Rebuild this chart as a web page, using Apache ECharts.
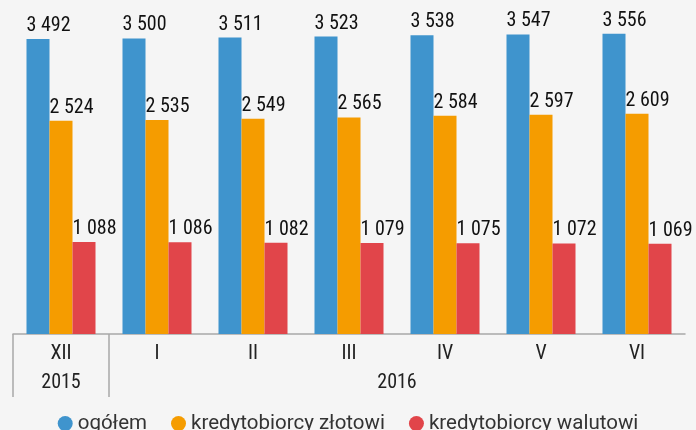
<!DOCTYPE html>
<html>
<head>
<meta charset="utf-8">
<script src="https://cdn.jsdelivr.net/npm/echarts@6/dist/echarts.min.js"></script>
<style>
  html, body { margin: 0; padding: 0; background: #f5f5f5; }
  #main { width: 696px; height: 430px; }
</style>
</head>
<body>
<div id="main"></div>
<script>
// dane
var months = ['XII', 'I', 'II', 'III', 'IV', 'V', 'VI'];
var ogolem = [3492, 3500, 3511, 3523, 3538, 3547, 3556];
var zlotowi = [2524, 2535, 2549, 2565, 2584, 2597, 2609];
var walutowi = [1088, 1086, 1082, 1079, 1075, 1072, 1069];
var years = ['2015', '2016'];

var numFont = "'Liberation Sans Narrow', 'Roboto Condensed', Roboto";

function fmt(p) {
  return String(p.value).replace(/\B(?=(\d{3})+(?!\d))/g, ' ');
}

function barLabel() {
  return {
    show: true,
    position: 'top',
    align: 'left',
    offset: [-11.5, 0],
    distance: 3,
    fontSize: 20,
    fontFamily: numFont,
    color: '#111',
    formatter: fmt
  };
}

var chart = echarts.init(document.getElementById('main'));

var option = {
  backgroundColor: '#f5f5f5',
  animation: false,
  grid: { left: 13, right: 11, top: 30, bottom: 96 },
  legend: {
    top: 408,
    left: 'center',
    icon: 'circle',
    itemWidth: 15,
    itemHeight: 15,
    itemGap: 24,
    textStyle: { fontSize: 20.5, fontFamily: 'Roboto', color: '#333' },
    data: ['ogółem', 'kredytobiorcy złotowi', 'kredytobiorcy walutowi']
  },
  xAxis: [
    {
      type: 'category',
      data: months,
      axisLine: { lineStyle: { color: '#a8a8a8', width: 1.5 } },
      axisTick: { show: false },
      axisLabel: { fontSize: 20, fontFamily: numFont, color: '#222', margin: 10 }
    },
    {
      // rząd z latami
      type: 'value',
      min: 0,
      max: 7,
      position: 'bottom',
      axisLine: { show: false },
      splitLine: { show: false },
      axisTick: {
        show: true,
        customValues: [0, 1],
        length: 63,
        lineStyle: { color: '#a8a8a8', width: 1.5 }
      },
      axisLabel: {
        customValues: [0.5, 4],
        margin: 39,
        fontSize: 20,
        fontFamily: numFont,
        color: '#222',
        formatter: function (v) { return v < 1 ? years[0] : years[1]; }
      }
    }
  ],
  yAxis: {
    type: 'value',
    min: 0,
    max: 3600,
    show: false,
    splitLine: { show: false }
  },
  series: [
    {
      name: 'ogółem',
      type: 'bar',
      data: ogolem,
      barWidth: 23,
      barGap: '0%',
      itemStyle: { color: '#3f94cd' },
      label: barLabel()
    },
    {
      name: 'kredytobiorcy złotowi',
      type: 'bar',
      data: zlotowi,
      barWidth: 23,
      barGap: '0%',
      itemStyle: { color: '#f59c00' },
      label: barLabel()
    },
    {
      name: 'kredytobiorcy walutowi',
      type: 'bar',
      data: walutowi,
      barWidth: 23,
      barGap: '0%',
      itemStyle: { color: '#e1454a' },
      label: barLabel()
    }
  ]
};

chart.setOption(option);
</script>
</body>
</html>
